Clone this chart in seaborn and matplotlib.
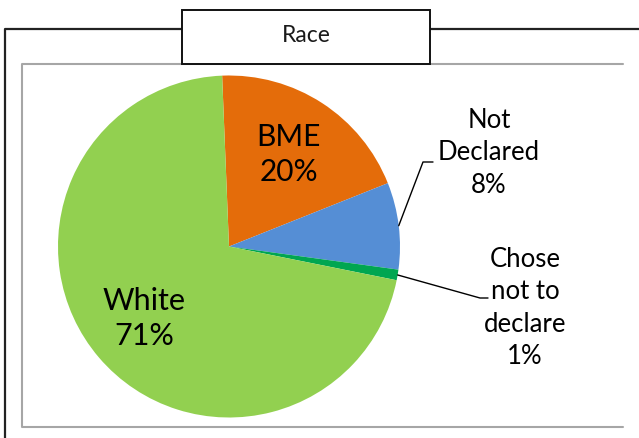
import matplotlib
matplotlib.use("Agg")
import numpy as np
import matplotlib.pyplot as plt
import seaborn as sns
from matplotlib.patches import Rectangle
from matplotlib.lines import Line2D

# ---- data ----
categories = ["BME", "Not\nDeclared", "Chose\nnot to\ndeclare", "White"]
values = [19.6, 8.2, 1.0, 71.2]
colors = ["#E46C0A", "#558ED5", "#00A651", "#92D050"]
title = "Race"

sns.set_theme(style="white")
plt.rcParams['font.family'] = ['Lato', 'DejaVu Sans']

W, H = 639, 438
fig = plt.figure(figsize=(W / 100, H / 100), dpi=100)
fig.patch.set_facecolor("white")
ax = fig.add_axes([0, 0, 1, 1])


def Y(y):
    return H - y


cx, cy, R = 229, Y(246.5), 171
wedges, _ = ax.pie(values, colors=colors, startangle=92.3, counterclock=False,
                   center=(cx, cy), radius=R,
                   wedgeprops=dict(linewidth=0, antialiased=True))
ax.set_xlim(0, W)
ax.set_ylim(0, H)
ax.set_aspect("equal", adjustable="box")
ax.axis("off")

pct = [f"{round(v)}%" for v in values]


def mid(w):
    return np.deg2rad((w.theta1 + w.theta2) / 2)


# inner labels
for i, (fs, rf) in {0: (21.5, 0.64), 3: (22, 0.65)}.items():
    a = mid(wedges[i])
    ax.text(cx + rf * R * np.cos(a), cy + rf * R * np.sin(a),
            f"{categories[i]}\n{pct[i]}", ha="center", va="center",
            fontsize=fs, color="black", linespacing=1.33)

# outer labels with leader lines
outer = {1: ((489, 153), [(423, 162), (433, 162)]),
         2: ((525, 308), [(480, 298), (488, 298)])}
for i, (txt, elbow) in outer.items():
    a = mid(wedges[i])
    px, py = cx + R * np.cos(a), cy + R * np.sin(a)
    xs = [px] + [e[0] for e in elbow]
    ys = [py] + [Y(e[1]) for e in elbow]
    ax.add_line(Line2D(xs, ys, color="black", lw=1.0))
    ax.text(txt[0], Y(txt[1]), f"{categories[i]}\n{pct[i]}", ha="center",
            va="center", fontsize=18.5, color="black", linespacing=1.38)

# frame: outer black lines
ax.add_line(Line2D([4.5, 4.5, 182], [0, Y(28.5), Y(28.5)], color="#222222", lw=1.6))
ax.add_line(Line2D([430, W], [Y(28.5), Y(28.5)], color="#222222", lw=1.6))
# inner grey border (left, top, bottom)
ax.add_line(Line2D([623, 22, 22, 623], [Y(64), Y(64), Y(427), Y(427)],
                   color="#A6A6A6", lw=1.5))
# title box
ax.add_patch(Rectangle((182, Y(64)), 248, 54, facecolor="white",
                       edgecolor="#111111", lw=1.4, zorder=5))
ax.text(306, Y(35), title, ha="center", va="center", fontsize=16.5,
        color="#1a1a1a", zorder=6)

fig.savefig("out.png", dpi=100, facecolor="white")
